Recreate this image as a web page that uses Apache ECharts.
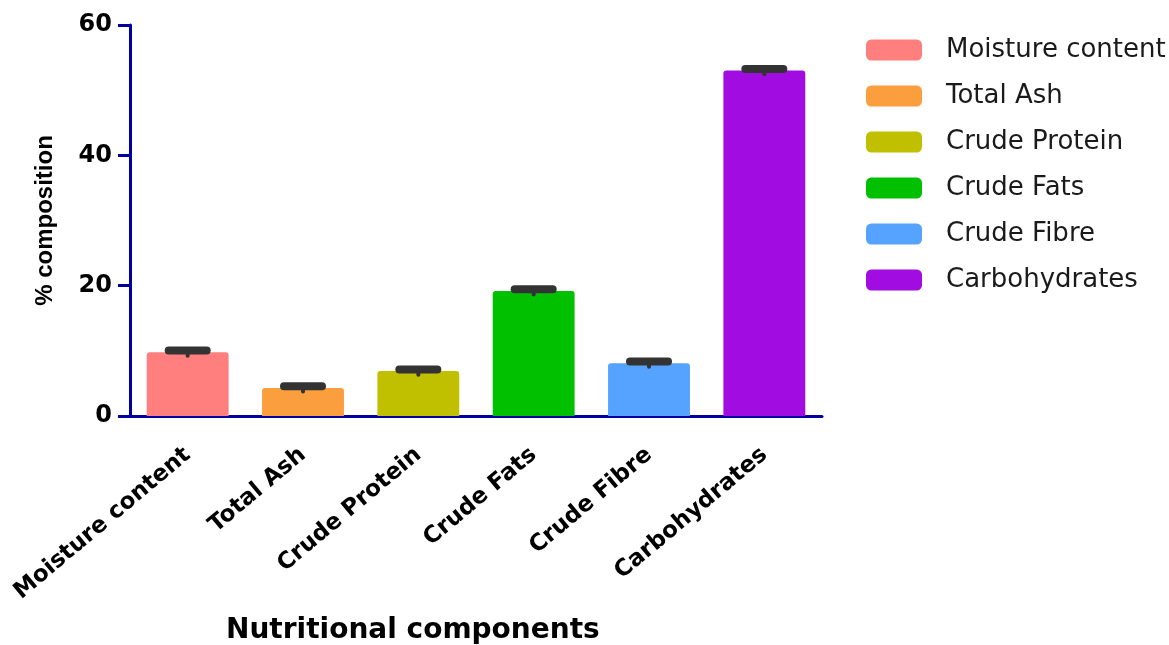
<!DOCTYPE html>
<html><head><meta charset="utf-8">
<script src="https://cdn.jsdelivr.net/npm/echarts@6/dist/echarts.min.js"></script>
<style>html,body{margin:0;padding:0;background:#fff}#c{width:1169px;height:645px}</style>
</head><body><div id="c"></div>
<script>
const categories = ['Moisture content','Total Ash','Crude Protein','Crude Fats','Crude Fibre','Carbohydrates'];
const values = [9.8, 4.3, 6.9, 19.2, 8.1, 53.0];
const errors = [0.25, 0.25, 0.25, 0.25, 0.25, 0.25];
const colors = ['#FF7F7F','#FA9E3E','#C0C000','#00C000','#55A3FF','#A10DE0'];
const yTicks = [0, 20, 40, 60];
const xTitle = 'Nutritional components';
const yTitle = '% composition';

const axisColor = '#0000A0';
const lib = 'Liberation Sans, Arial, sans-serif';
const dej = 'DejaVu Sans, sans-serif';

const barSeries = categories.map((name, i) => ({
  name: name,
  type: 'bar',
  stack: 'all',
  barWidth: '71%',
  itemStyle: { color: colors[i], borderRadius: [3,3,0,0] },
  data: categories.map((c, j) => j === i ? values[i] : '-')
}));

const errSeries = {
  type: 'custom',
  name: 'err',
  z: 10,
  data: values.map((v, i) => [i, v, errors[i]]),
  renderItem: function (params, api) {
    const x = api.value(0), v = api.value(1), e = api.value(2);
    const top = api.coord([x, v + e]);
    const bot = api.coord([x, v - e]);
    const half = 19;
    return {
      type: 'group',
      children: [
        { type: 'line', shape: { x1: top[0], y1: top[1], x2: bot[0], y2: bot[1] + 2 },
          style: { stroke: '#333333', lineWidth: 4, lineCap: 'round' } },
        { type: 'line', shape: { x1: top[0] - half, y1: top[1], x2: top[0] + half, y2: top[1] },
          style: { stroke: '#333333', lineWidth: 8, lineCap: 'round' } }
      ]
    };
  }
};

const chart = echarts.init(document.getElementById('c'), null, { renderer: 'canvas' });
chart.setOption({
  animation: false,
  backgroundColor: '#fff',
  grid: { left: 130, right: 347, top: 25, bottom: 229, containLabel: false },
  legend: {
    orient: 'vertical',
    left: 866, top: 37, padding: 0,
    icon: 'roundRect',
    itemWidth: 56, itemHeight: 21, itemGap: 20,
    data: categories,
    textStyle: { fontFamily: dej, fontSize: 26, lineHeight: 25, color: '#1a1a1a', padding: [0,0,0,19] }
  },
  xAxis: {
    type: 'category',
    data: categories,
    axisLine: { lineStyle: { color: axisColor, width: 3 } },
    axisTick: { alignWithLabel: true, length: 13, lineStyle: { color: axisColor, width: 3 } },
    axisLabel: { rotate: 40, interval: 0, margin: 36, fontFamily: dej, fontWeight: 'bold', fontSize: 23, color: '#000' }
  },
  yAxis: {
    type: 'value',
    min: 0, max: 60, interval: 20,
    name: yTitle,
    nameLocation: 'middle',
    nameGap: 73,
    nameTextStyle: { fontFamily: lib, fontWeight: 'bold', fontSize: 24, color: '#000' },
    splitLine: { show: false },
    axisLine: { show: true, lineStyle: { color: axisColor, width: 3 } },
    axisTick: { show: true, length: 12, lineStyle: { color: axisColor, width: 3 } },
    axisLabel: { margin: 18, fontFamily: dej, fontWeight: 'bold', fontSize: 24, color: '#000',
      formatter: v => yTicks.includes(v) ? String(v) : '' }
  },
  graphic: [{
    type: 'text', x: 226, y: 631,
    style: { text: xTitle, x: 0, y: 0, textAlign: 'left', textVerticalAlign: 'middle',
      fontFamily: dej, fontWeight: 'bold', fontSize: 28, fill: '#000' }
  }],
  series: barSeries.concat([errSeries])
});
</script></body></html>
